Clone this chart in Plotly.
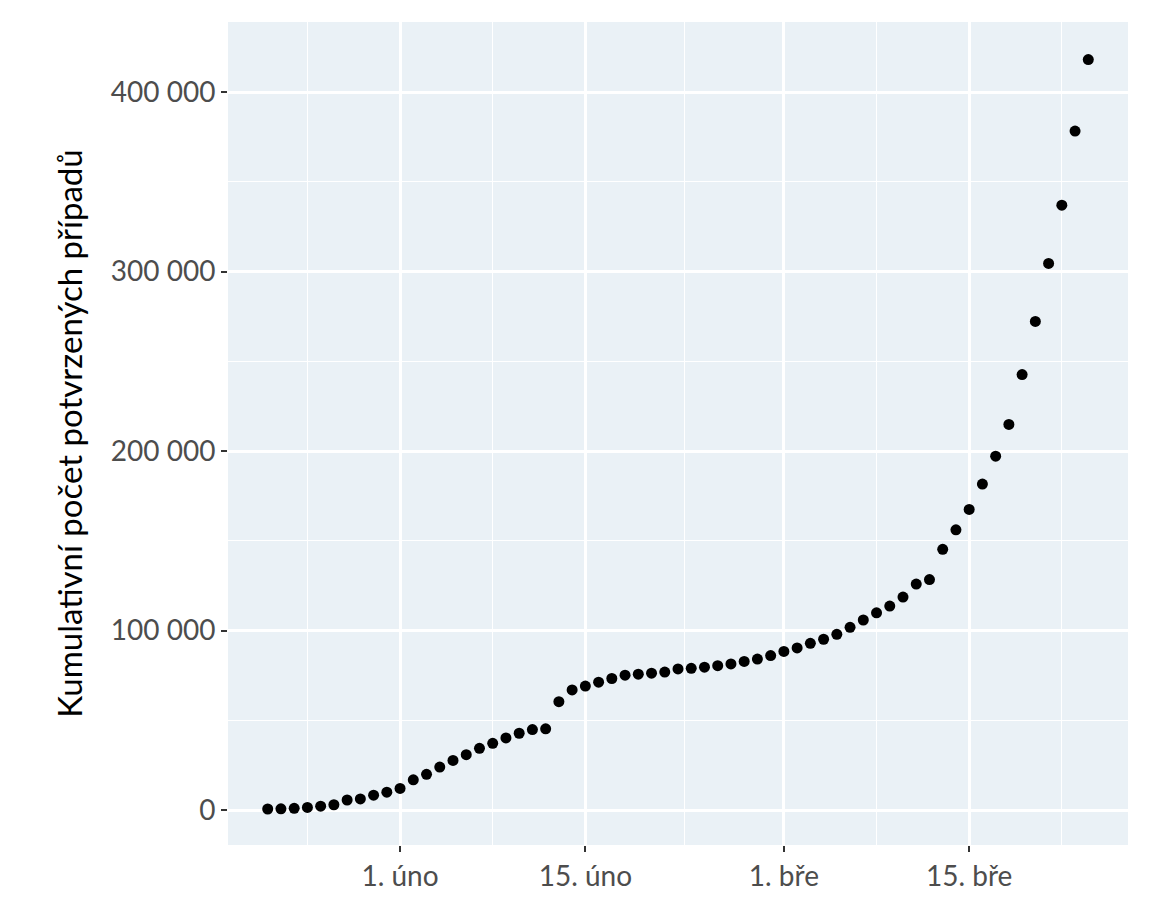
import pandas as pd
import plotly.graph_objects as go

# cumulative confirmed cases, one per day from 22 Jan 2020
dates = pd.date_range("2020-01-22", "2020-03-24", freq="D")
cases = [555, 654, 941, 1434, 2118, 2927, 5578, 6166, 8234, 9927,
         12038, 16787, 19881, 23892, 27635, 30794, 34391, 37120, 40150, 42762,
         44802, 45221, 60368, 66885, 69030, 71224, 73258, 75136, 75639, 76197,
         76819, 78572, 78958, 79561, 80406, 81388, 82746, 84112, 86011,
         88369, 90306, 92840, 95120, 97886, 101801, 105847, 109821, 113590, 118620,
         125875, 128352, 145205, 156101, 167454, 181574, 197102, 214821, 242570,
         272208, 304507, 336953, 378231, 418041]

x_ticks = ["2020-02-01", "2020-02-15", "2020-03-01", "2020-03-15"]
x_labels = ["1. úno", "15. úno", "1. bře", "15. bře"]
x_minor = ["2020-01-25", "2020-02-08", "2020-02-22 12:00", "2020-03-08", "2020-03-22"]
y_ticks = [0, 100000, 200000, 300000, 400000]
y_minor = [50000, 150000, 250000, 350000]

fig = go.Figure(go.Scatter(x=dates, y=cases, mode="markers",
                           marker=dict(color="black", size=11), showlegend=False))

fig.update_layout(
    width=1152, height=922,
    margin=dict(l=220, r=32, t=14, b=85),
    plot_bgcolor="#EAF1F6", paper_bgcolor="white",
    font=dict(family="Lato", size=28, color="#4d4d4d"),
    separators=", ",
)
fig.update_xaxes(range=["2020-01-19", "2020-03-27"], tickvals=x_ticks, ticktext=x_labels,
                 gridcolor="white", gridwidth=2.5, zeroline=False,
                 ticks="outside", ticklen=6, tickcolor="#333", tickwidth=1.5,
                 minor=dict(tickvals=x_minor, showgrid=True, gridcolor="white", gridwidth=1.2))
fig.update_yaxes(range=[-19500, 439000], tickvals=y_ticks, tickformat=",d",
                 gridcolor="white", gridwidth=2.5, zeroline=False,
                 ticks="outside", ticklen=6, tickcolor="#333", tickwidth=1.5,
                 title=dict(text="Kumulativní počet potvrzených případů",
                            font=dict(size=33, color="black"), standoff=18),
                 minor=dict(tickvals=y_minor, showgrid=True, gridcolor="white", gridwidth=1.2))

fig.write_html("out.html")
